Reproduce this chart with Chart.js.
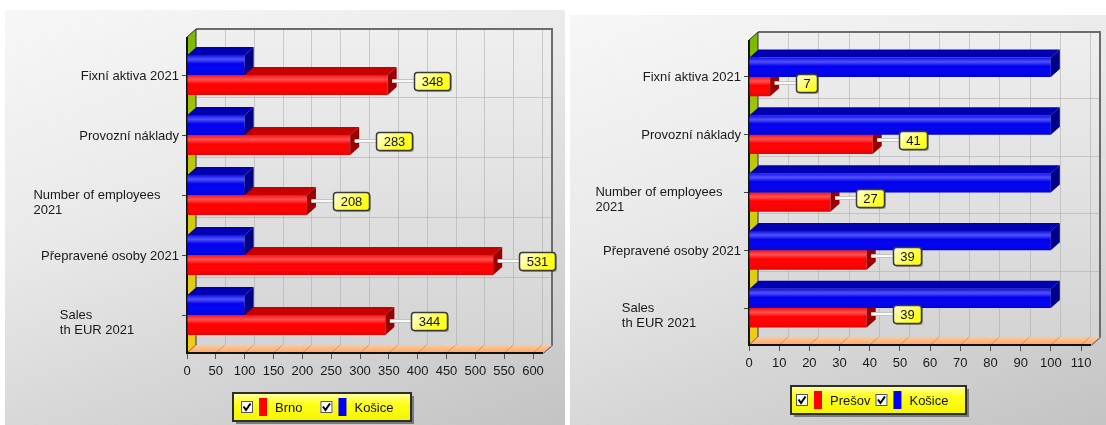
<!DOCTYPE html>
<html>
<head>
<meta charset="utf-8">
<script src="https://cdn.jsdelivr.net/npm/chart.js@4"></script>
<style>
html, body { margin: 0; padding: 0; background: #fff; width: 1106px; height: 425px; overflow: hidden; }
.panel { position: absolute; background: linear-gradient(160deg, #f7f7f7 0%, #e9e9e9 40%, #c3c3c3 100%); }
#p1 { left: 5px; top: 10px; width: 560px; height: 415px; }
#p2 { left: 570px; top: 15px; width: 536px; height: 410px; }
canvas { display: block; }
</style>
</head>
<body>
<div class="panel" id="p1"><canvas id="leftChart" width="560" height="415"></canvas></div>
<div class="panel" id="p2"><canvas id="rightChart" width="536" height="410"></canvas></div>
<script>
// categories, top to bottom
const categories = [
	"Fixní aktiva 2021",
	"Provozní náklady",
	["Number of employees", "2021"],
	"Přepravené osoby 2021",
	["Sales", "th EUR 2021"],
];

// left chart: Brno vs Košice
const brnoValues = [348, 283, 208, 531, 344];
const kosiceLeftValues = [100, 100, 100, 100, 100];
const leftTicks = { min: 0, max: 600, step: 50 };

// right chart: Prešov vs Košice
const presovValues = [7, 41, 27, 39, 39];
const kosiceRightValues = [100, 100, 100, 100, 100];
const rightTicks = { min: 0, max: 110, step: 10 };

const DX = 9;
const DY = 8;
const FAMILY = "'Liberation Sans', Arial, sans-serif";
const FONT = "13px " + FAMILY;

const poly = (ctx, pts) => {
	ctx.beginPath();
	ctx.moveTo(pts[0][0], pts[0][1]);
	for (let i = 1; i < pts.length; i++) ctx.lineTo(pts[i][0], pts[i][1]);
	ctx.closePath();
};

const roundRect = (ctx, x, y, w, h, r) => {
	ctx.beginPath();
	ctx.moveTo(x + r, y);
	ctx.arcTo(x + w, y, x + w, y + h, r);
	ctx.arcTo(x + w, y + h, x, y + h, r);
	ctx.arcTo(x, y + h, x, y, r);
	ctx.arcTo(x, y, x + w, y, r);
	ctx.closePath();
};

const box3d = {
	id: "box3d",
	beforeDatasetsDraw(chart, args, opts) {
		const { ctx, chartArea: a, scales } = chart;
		const x = scales.x, y = scales.y;
		const L = a.left, T = a.top, B = a.bottom, R = a.right + opts.extra;
		ctx.save();

		// back wall
		let g = ctx.createLinearGradient(0, T - 2 * DY, 0, B);
		g.addColorStop(0, "#efefef");
		g.addColorStop(1, "#d4d4d4");
		ctx.fillStyle = g;
		ctx.fillRect(L + DX, T - 2 * DY, R - L, B - T + 2 * DY);

		// grid on back wall
		ctx.strokeStyle = "rgba(175,175,175,0.6)";
		ctx.lineWidth = 1;
		x.ticks.forEach((t) => {
			const px = Math.round(x.getPixelForValue(t.value) + DX) + 0.5;
			if (px <= L + DX + 1) return;
			ctx.beginPath();
			ctx.moveTo(px, T - 2 * DY);
			ctx.lineTo(px, B);
			ctx.stroke();
		});
		for (let i = 1; i < categories.length; i++) {
			const yb = Math.round((y.getPixelForValue(i - 1) + y.getPixelForValue(i)) / 2 - DY) + 0.5;
			ctx.beginPath();
			ctx.moveTo(L + DX, yb);
			ctx.lineTo(R + DX, yb);
			ctx.stroke();
		}

		// border of the back wall
		ctx.strokeStyle = "#6c6c6c";
		ctx.lineWidth = 2;
		ctx.beginPath();
		ctx.moveTo(L + DX, T - 2 * DY);
		ctx.lineTo(R + DX, T - 2 * DY);
		ctx.lineTo(R + DX, B);
		ctx.lineTo(R, B + DY);
		ctx.stroke();

		// left wall
		g = ctx.createLinearGradient(0, T - 2 * DY, 0, B + DY);
		g.addColorStop(0, "#78b800");
		g.addColorStop(0.5, "#c8cc10");
		g.addColorStop(1, "#f2cc1a");
		ctx.fillStyle = g;
		poly(ctx, [[L, T - DY], [L + DX, T - 2 * DY], [L + DX, B], [L, B + DY]]);
		ctx.fill();
		ctx.strokeStyle = "#333";
		ctx.lineWidth = 1;
		ctx.stroke();

		// floor
		g = ctx.createLinearGradient(0, B, 0, B + DY);
		g.addColorStop(0, "#ffc89a");
		g.addColorStop(1, "#ffa868");
		ctx.fillStyle = g;
		poly(ctx, [[L, B + DY], [R, B + DY], [R + DX, B], [L + DX, B]]);
		ctx.fill();
		ctx.strokeStyle = "rgba(120,80,50,0.35)";
		x.ticks.forEach((t) => {
			const px = x.getPixelForValue(t.value);
			ctx.beginPath();
			ctx.moveTo(px, B + DY);
			ctx.lineTo(px + DX, B);
			ctx.stroke();
		});

		// front axis lines
		ctx.strokeStyle = "#111";
		ctx.lineWidth = 2;
		ctx.beginPath();
		ctx.moveTo(L, T - DY);
		ctx.lineTo(L, B + DY);
		ctx.lineTo(R, B + DY);
		ctx.stroke();
		ctx.restore();
	},
	afterDatasetDraw(chart, args) {
		const ctx = chart.ctx;
		const ds = chart.data.datasets[args.index];
		ctx.save();
		args.meta.data.forEach((bar) => {
			const p = bar.getProps(["x", "y", "base", "height"], true);
			const top = p.y - p.height / 2, bot = p.y + p.height / 2;
			// shading of the front face
			const g = ctx.createLinearGradient(0, top, 0, bot);
			g.addColorStop(0, "rgba(255,255,255,0.05)");
			g.addColorStop(0.22, "rgba(255,255,255,0.32)");
			g.addColorStop(0.45, "rgba(255,255,255,0)");
			g.addColorStop(1, "rgba(0,0,0,0.08)");
			ctx.fillStyle = g;
			ctx.fillRect(p.base, top, p.x - p.base, p.height);
			// top face
			ctx.fillStyle = ds.topColor;
			poly(ctx, [[p.base, top], [p.x, top], [p.x + DX, top - DY], [p.base + DX, top - DY]]);
			ctx.fill();
			// side face
			ctx.fillStyle = ds.sideColor;
			poly(ctx, [[p.x, top], [p.x + DX, top - DY], [p.x + DX, bot - DY], [p.x, bot]]);
			ctx.fill();
		});
		ctx.restore();
	},
	afterDatasetsDraw(chart) {
		const ctx = chart.ctx;
		ctx.save();
		ctx.font = FONT;
		chart.data.datasets.forEach((ds, i) => {
			if (!ds.showValues) return;
			chart.getDatasetMeta(i).data.forEach((bar, j) => {
				const p = bar.getProps(["x", "y"], true);
				const cy = Math.round(p.y - 4);
				const txt = String(ds.data[j]);
				const tw = ctx.measureText(txt).width;
				const bw = Math.round(tw + 14), bh = 18;
				const bx = Math.round(p.x + 26), by = cy - bh / 2;
				// connector
				ctx.strokeStyle = "#c4c4c4";
				ctx.lineWidth = 4;
				ctx.beginPath();
				ctx.moveTo(p.x + DX / 2, cy);
				ctx.lineTo(bx, cy);
				ctx.stroke();
				ctx.strokeStyle = "#fafafa";
				ctx.lineWidth = 2;
				ctx.stroke();
				// shadow
				ctx.fillStyle = "rgba(0,0,0,0.3)";
				roundRect(ctx, bx + 2, by + 2, bw, bh, 3);
				ctx.fill();
				// box
				const g = ctx.createLinearGradient(bx, by, bx + bw * 0.6, by + bh);
				g.addColorStop(0, "#ffffe8");
				g.addColorStop(0.6, "#ffff70");
				g.addColorStop(1, "#ffff20");
				ctx.fillStyle = g;
				roundRect(ctx, bx + 0.5, by + 0.5, bw, bh, 3);
				ctx.fill();
				ctx.strokeStyle = "#3a3a3a";
				ctx.lineWidth = 1.5;
				ctx.stroke();
				ctx.fillStyle = "#111";
				ctx.textAlign = "center";
				ctx.textBaseline = "middle";
				ctx.fillText(txt, bx + bw / 2 + 0.5, cy + 1);
			});
		});
		ctx.restore();
	},
	afterDraw(chart, args, opts) {
		const { ctx, chartArea: a } = chart;
		const y = chart.scales.y;
		ctx.save();
		ctx.font = FONT;
		ctx.fillStyle = "#1a1a1a";
		ctx.textBaseline = "middle";

		// category labels
		chart.data.labels.forEach((lab, i) => {
			const py = y.getPixelForValue(i);
			if (Array.isArray(lab)) {
				const w = Math.max(...lab.map((s) => ctx.measureText(s).width));
				const lx = a.left - 90 - w / 2;
				ctx.textAlign = "left";
				lab.forEach((s, k) => ctx.fillText(s, lx, py + k * 15));
			} else {
				ctx.textAlign = "right";
				ctx.fillText(lab, a.left - 8, py + 1);
			}
		});

		// legend box
		const lg = opts.legend;
		const items = chart.data.datasets.slice().reverse();
		let w = lg.pad;
		items.forEach((d, i) => {
			w += 12 + 6 + 8 + 8 + ctx.measureText(d.label).width;
			if (i < items.length - 1) w += lg.gap;
		});
		w = Math.round(w + 18);
		const h = 28, x0 = lg.x, y0 = lg.y;
		ctx.fillStyle = "rgba(0,0,0,0.4)";
		ctx.fillRect(x0 + 3, y0 + 3, w, h);
		let g = ctx.createLinearGradient(0, y0, 0, y0 + h);
		g.addColorStop(0, "#ffffb4");
		g.addColorStop(0.35, "#ffff20");
		g.addColorStop(1, "#f4f400");
		ctx.fillStyle = g;
		ctx.fillRect(x0, y0, w, h);
		ctx.strokeStyle = "#2e2e2e";
		ctx.lineWidth = 2;
		ctx.strokeRect(x0, y0, w, h);

		let cx = x0 + lg.pad;
		const cy = y0 + h / 2;
		items.forEach((d) => {
			ctx.fillStyle = "#fff";
			ctx.fillRect(cx, cy - 6, 12, 12);
			ctx.strokeStyle = "#555";
			ctx.lineWidth = 1;
			ctx.strokeRect(cx + 0.5, cy - 5.5, 11, 11);
			ctx.strokeStyle = "#000";
			ctx.lineWidth = 2;
			ctx.beginPath();
			ctx.moveTo(cx + 2.5, cy - 0.5);
			ctx.lineTo(cx + 5, cy + 3);
			ctx.lineTo(cx + 9.5, cy - 3.5);
			ctx.stroke();
			cx += 12 + 6;
			ctx.fillStyle = d.backgroundColor;
			ctx.fillRect(cx, cy - 9, 8, 18);
			cx += 8 + 8;
			ctx.fillStyle = "#111";
			ctx.textAlign = "left";
			ctx.fillText(d.label, cx, cy + 1);
			cx += ctx.measureText(d.label).width + lg.gap;
		});
		ctx.restore();
	},
};

const makeChart = (id, redLabel, redData, blueData, tk, pad, legend) => {
	return new Chart(document.getElementById(id), {
		type: "bar",
		data: {
			labels: categories,
			datasets: [
				{
					label: "Košice",
					data: blueData,
					backgroundColor: "#0000f0",
					topColor: "#0000b2",
					sideColor: "#000084",
				},
				{
					label: redLabel,
					data: redData,
					backgroundColor: "#ff0000",
					topColor: "#c60000",
					sideColor: "#960000",
					showValues: true,
				},
			],
		},
		options: {
			responsive: false,
			animation: false,
			indexAxis: "y",
			datasets: {
				bar: { categoryPercentage: 0.67, barPercentage: 1, borderWidth: 0 },
			},
			layout: { padding: pad },
			plugins: {
				legend: { display: false },
				tooltip: { enabled: false },
				box3d: { extra: 10, legend: legend },
			},
			scales: {
				x: {
					type: "linear",
					min: tk.min,
					max: tk.max,
					afterFit: (s) => { s.height = 40; },
					border: { display: false },
					grid: { drawOnChartArea: false, drawTicks: true, tickLength: 14, color: "#555" },
					ticks: {
						stepSize: tk.step,
						autoSkip: false,
						maxRotation: 0,
						includeBounds: false,
						padding: 5,
						color: "#1a1a1a",
						font: { family: FAMILY, size: 13 },
					},
				},
				y: {
					afterFit: (s) => { s.width = 0; },
					border: { display: false },
					grid: { drawOnChartArea: false, offset: false, tickLength: 5, color: "#444" },
					ticks: { display: false },
				},
			},
		},
		plugins: [box3d],
	});
};

makeChart("leftChart", "Brno", brnoValues, kosiceLeftValues, leftTicks,
	{ left: 182, top: 35, right: 32, bottom: 40 }, { x: 228, y: 383, pad: 8, gap: 18 });
makeChart("rightChart", "Prešov", presovValues, kosiceRightValues, rightTicks,
	{ left: 179, top: 33, right: 25, bottom: 48 }, { x: 221, y: 371, pad: 5, gap: 5 });
</script>
</body>
</html>
